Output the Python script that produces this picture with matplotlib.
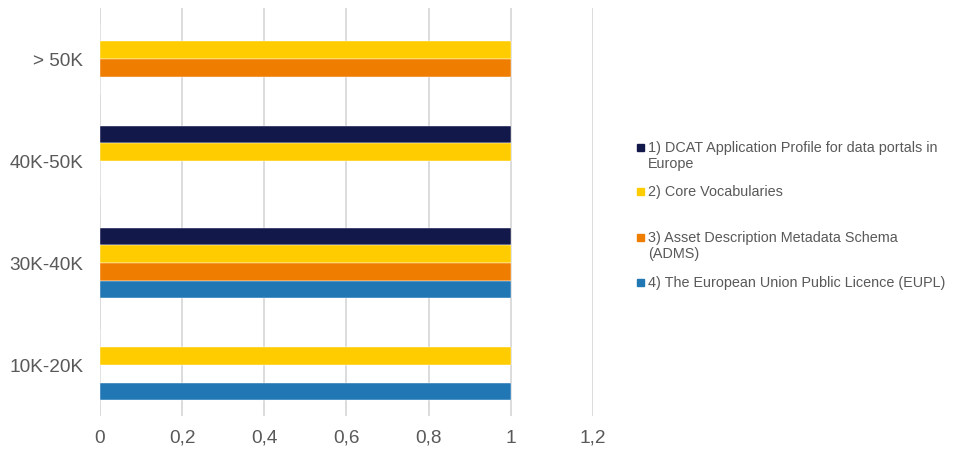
import matplotlib.pyplot as plt
import matplotlib.patches as mpatches
from matplotlib.ticker import FuncFormatter
import numpy as np

# =====================
# Data
# =====================

categories = ["10K-20K", "30K-40K", "40K-50K", "> 50K"]
series_names = [
    "1) DCAT Application Profile for data portals in\nEurope",
    "2) Core Vocabularies",
    "3) Asset Description Metadata Schema\n(ADMS)",
    "4) The European Union Public Licence (EUPL)",
]
dcat = [0, 1, 1, 0]
core = [1, 1, 1, 1]
adms = [0, 1, 0, 1]
eupl = [1, 1, 0, 0]
colors = ["#12184A", "#FFCC00", "#EF7D00", "#2077B4"]

plt.rcParams["font.family"] = ["Liberation Sans", "DejaVu Sans"]
text_color = "#595959"

# =====================
# Figure
# =====================

fig = plt.figure(figsize=(9.57, 4.53), dpi=100)
ax = fig.add_axes([100 / 957, 1 - 416 / 453, 493 / 957, 408 / 453])

y = np.arange(len(categories))
bar_h = 0.172
values = [dcat, core, adms, eupl]
for i, (vals, col) in enumerate(zip(values, colors)):
    offset = (1.5 - i) * bar_h
    ax.barh(y + offset, vals, height=bar_h, color=col, edgecolor="white",
            linewidth=0.3, zorder=3)

ax.set_xlim(0, 1.2)
ax.set_ylim(-0.5, len(categories) - 0.5)
ax.set_xticks(np.arange(0, 1.21, 0.2))
ax.xaxis.set_major_formatter(FuncFormatter(lambda v, p: ("%g" % round(v, 1)).replace(".", ",")))
ax.set_yticks(y)
ax.set_yticklabels(categories)
ax.grid(axis="x", color="#D9D9D9", linewidth=1.3, zorder=0)
for s in ax.spines.values():
    s.set_visible(False)
ax.tick_params(axis="both", length=0, labelsize=13.7, colors=text_color)
ax.tick_params(axis="x", pad=10)
ax.tick_params(axis="y", pad=12)

# =====================
# Legend (Excel style, marker next to first line)
# =====================

legend_y = [148, 192, 238, 283]
for name, col, ly in zip(series_names, colors, legend_y):
    fig.patches.append(mpatches.Rectangle(
        (637 / 957, 1 - (ly + 3) / 453), 7 / 957, 7 / 453,
        transform=fig.transFigure, color=col))
    fig.text(648 / 957, 1 - (ly - 7) / 453, name, fontsize=10.4, color=text_color,
             va="top", ha="left", linespacing=1.2)

plt.savefig("out.png", dpi=100)
plt.close()
